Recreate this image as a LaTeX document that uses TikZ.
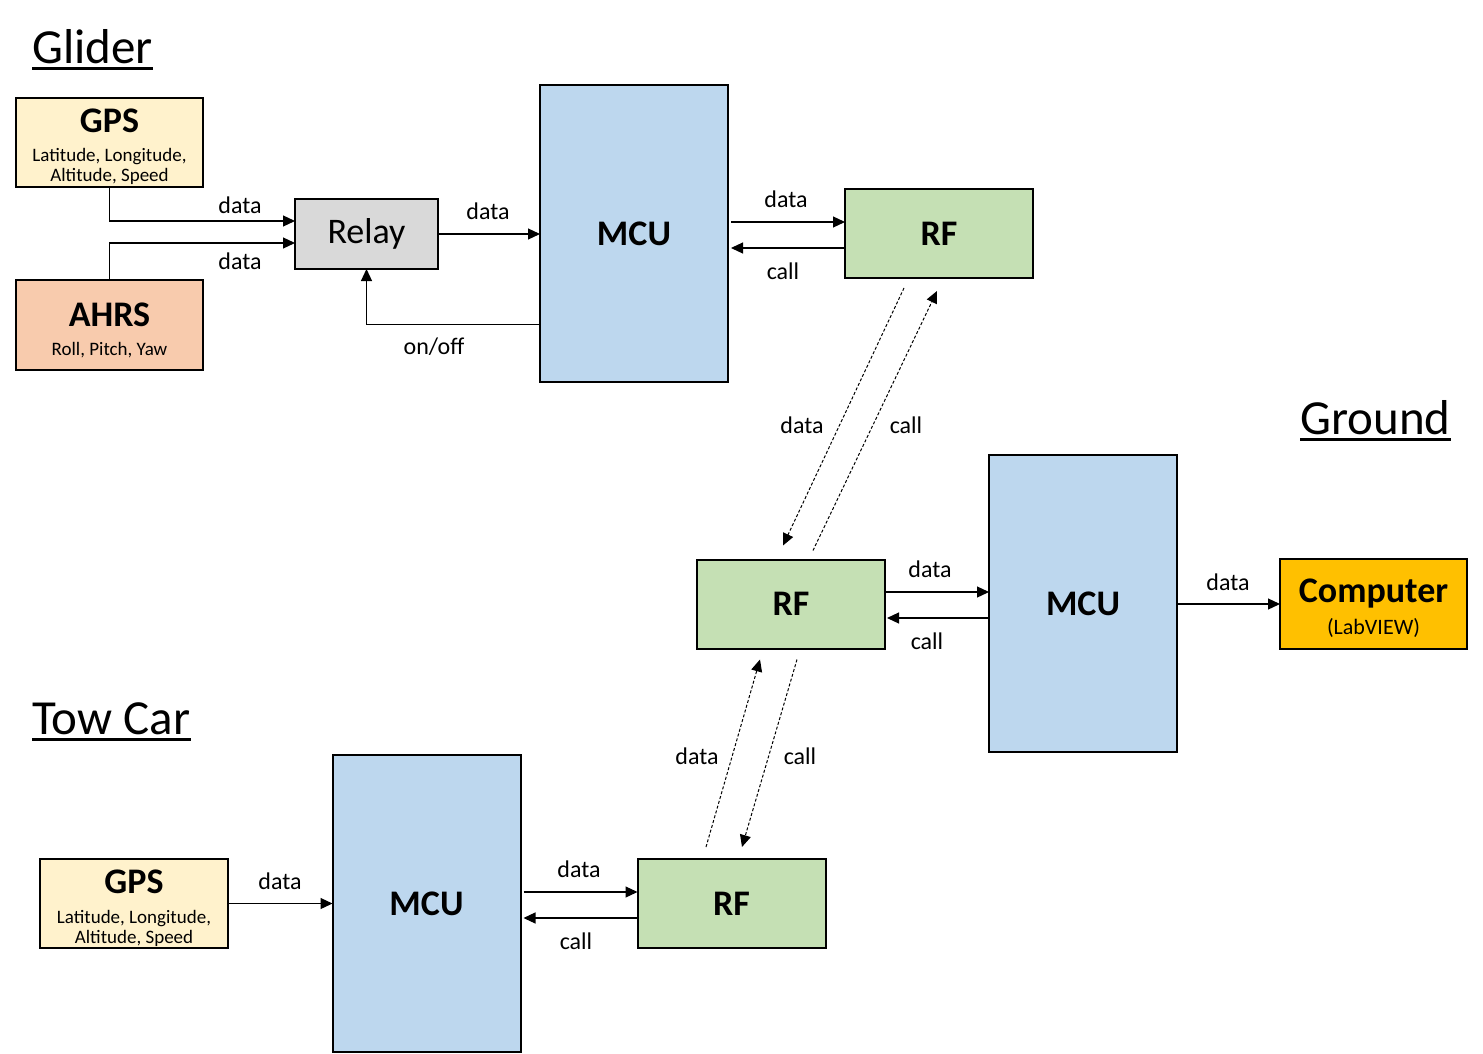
\documentclass[tikz,border=0pt]{standalone}
\usepackage{fontspec}
\setmainfont{Carlito}
\usetikzlibrary{arrows.meta,calc}
\definecolor{gpsc}{HTML}{FFF2CC}
\definecolor{ahrsc}{HTML}{F8CBAD}
\definecolor{relayc}{HTML}{D9D9D9}
\definecolor{mcuc}{HTML}{BDD7EE}
\definecolor{rfc}{HTML}{C5E0B4}
\definecolor{compc}{HTML}{FFC000}
\begin{document}
\begin{tikzpicture}[x=0.5pt,y=-0.5pt,
 box/.style={draw=black,line width=1pt,inner sep=0pt,outer sep=0pt},
 bigtxt/.style={font=\fontsize{18}{20}\selectfont\bfseries},
 rfbox/.style={box,bigtxt,fill=rfc,minimum width=94pt,minimum height=44.5pt},
 mcubox/.style={box,bigtxt,fill=mcuc,minimum width=94pt,minimum height=148.5pt},
 arr/.style={-{Triangle[length=6pt,width=5.5pt]},line width=0.6pt},
 darr/.style={-{Triangle[length=6pt,width=5.5pt]},line width=0.5pt,dash pattern=on 1.5pt off 1pt},
 lbl/.style={font=\fontsize{12}{14}\selectfont,inner sep=0pt},
 subtxt/.style={font=\fontsize{9.5}{11}\selectfont,inner sep=0pt,anchor=base},
 ttl/.style={bigtxt,inner sep=0pt,anchor=base},
 head/.style={font=\fontsize{24.5}{28}\selectfont,inner sep=0pt,anchor=base west},
 uline/.style={line width=1.5pt}]

\useasboundingbox (0,0) rectangle (1483,1054);

% Titles
\node[head] (glider) at (32,64) {Glider};
\draw[uline] ([yshift=-2.5pt]glider.base west) -- ([yshift=-2.5pt]glider.base east);
\node[head] (ground) at (1300,434) {Ground};
\draw[uline] ([yshift=-2.5pt]ground.base west) -- ([yshift=-2.5pt]ground.base east);
\node[head] (towcar) at (32,734) {Tow Car};
\draw[uline] ([yshift=-2.5pt]towcar.base west) -- ([yshift=-2.5pt]towcar.base east);

% Glider
\node[box,fill=gpsc,minimum width=93.5pt,minimum height=44.5pt] (gps1) at (109.5,142.5) {};
\node[ttl] (gps1t) at (109.5,132.5) {GPS};
\node[subtxt] (gps1s1) at (109.5,162) {Latitude, Longitude,};
\node[subtxt] (gps1s2) at (109.5,182) {Altitude, Speed};

\node[box,fill=ahrsc,minimum width=93.5pt,minimum height=45pt] (ahrs) at (109.5,325) {};
\node[ttl] (ahrst) at (109.5,326) {AHRS};
\node[subtxt] (ahrss) at (109.5,355) {Roll, Pitch, Yaw};

\node[box,fill=relayc,minimum width=71.5pt,minimum height=35pt,font=\fontsize{18}{20}\selectfont] (relay) at (366.5,234) {Relay};

\node[mcubox] (mcu1) at (634,233.5) {MCU};
\node[rfbox] (rf1) at (939,233.5) {RF};

\draw[arr] (gps1.south) |- ([yshift=6.5pt]relay.west);
\draw[arr] (ahrs.north) |- ([yshift=-4.5pt]relay.west);
\node[lbl] (l1) at (240,205) {data};
\node[lbl] (l2) at (240,261) {data};
\draw[arr] (relay.east) -- (relay.east -| mcu1.west);
\node[lbl] (l3) at (488,211) {data};
\draw[arr] ([yshift=-45.5pt]mcu1.west) -| (relay.south);
\node[lbl] (l4) at (434,347) {on/off};
\draw[arr] ([xshift=1.5pt,yshift=5.75pt]mcu1.east) -- ([yshift=5.75pt]rf1.west);
\node[lbl] (l5) at (786,199) {data};
\draw[arr] ([yshift=-7.25pt]rf1.west) -- ([xshift=1.5pt,yshift=-7.25pt]mcu1.east);
\node[lbl] (l6) at (783,271) {call};

% Ground
\node[rfbox] (rf2) at (791,604) {RF};
\node[mcubox] (mcu2) at (1083,603.5) {MCU};
\node[box,fill=compc,minimum width=93.5pt,minimum height=45pt] (comp) at (1373.5,604) {};
\node[ttl] (compt) at (1373.5,602) {Computer};
\node[subtxt,font=\fontsize{11}{13}\selectfont] (comps) at (1373.5,634) {(LabVIEW)};

\draw[darr] ([xshift=-17.5pt,yshift=-5pt]rf1.south) -- ([xshift=-4pt,yshift=7pt]rf2.north);
\draw[darr] ([xshift=11pt,yshift=4.5pt]rf2.north) -- ([xshift=-1pt,yshift=-6.5pt]rf1.south);
\node[lbl] (l7) at (802,425) {data};
\node[lbl] (l8) at (906,425) {call};

\draw[arr] ([yshift=6pt]rf2.east) -- ([yshift=6pt]rf2.east -| mcu2.west);
\node[lbl] (l9) at (930,569) {data};
\draw[arr] ([yshift=-7pt]rf2.east -| mcu2.west) -- ([xshift=1pt,yshift=-7pt]rf2.east);
\node[lbl] (l10) at (927,641) {call};
\draw[arr] (mcu2.east |- comp.west) -- (comp.west);
\node[lbl] (l11) at (1228,582) {data};

% Tow car
\node[box,fill=gpsc,minimum width=94pt,minimum height=44.5pt] (gps2) at (134,903.5) {};
\node[ttl] (gps2t) at (134,893.5) {GPS};
\node[subtxt] (gps2s1) at (134,923) {Latitude, Longitude,};
\node[subtxt] (gps2s2) at (134,943) {Altitude, Speed};
\node[mcubox] (mcu3) at (426.5,903.5) {MCU};
\node[rfbox] (rf3) at (731.5,903.5) {RF};

\draw[darr] ([xshift=-12.75pt,yshift=6pt]rf3.north) -- ([xshift=-15.5pt,yshift=-5.5pt]rf2.south);
\draw[darr] ([xshift=3pt,yshift=-5.5pt]rf2.south) -- ([xshift=5.25pt,yshift=6pt]rf3.north);
\node[lbl] (l12) at (697,756) {data};
\node[lbl] (l13) at (800,756) {call};

\draw[arr] (gps2.east) -- (gps2.east -| mcu3.west);
\node[lbl] (l14) at (280,881) {data};
\draw[arr] ([xshift=1.5pt,yshift=5.75pt]mcu3.east) -- ([yshift=5.75pt]mcu3.east -| rf3.west);
\node[lbl] (l15) at (579,869) {data};
\draw[arr] ([yshift=-7.25pt]mcu3.east -| rf3.west) -- ([xshift=1.5pt,yshift=-7.25pt]mcu3.east);
\node[lbl] (l16) at (576,941) {call};
\end{tikzpicture}
\end{document}
